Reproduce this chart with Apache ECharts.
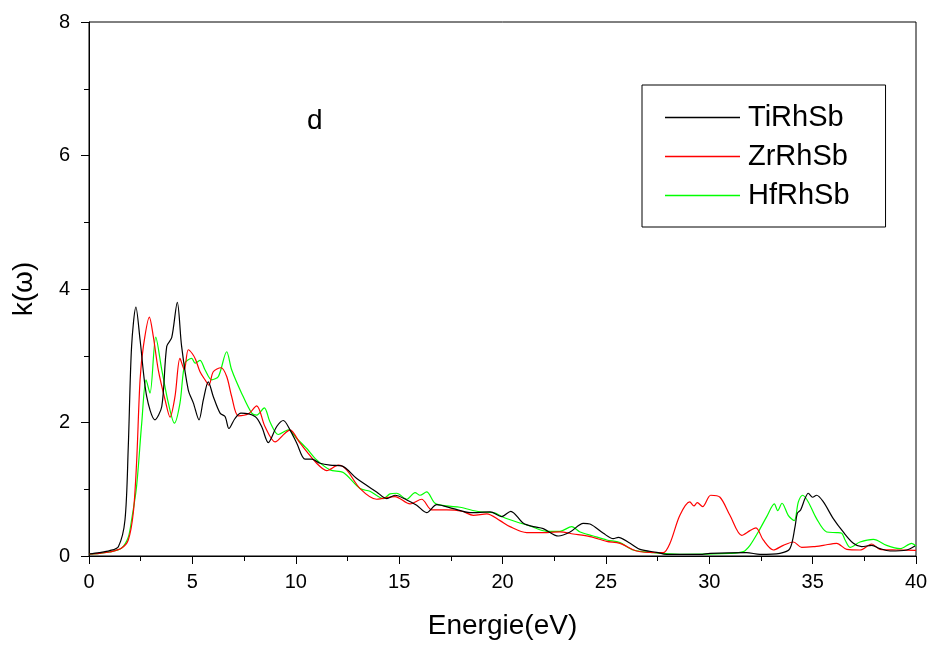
<!DOCTYPE html>
<html><head><meta charset="utf-8">
<script src="https://cdn.jsdelivr.net/npm/echarts@6/dist/echarts.min.js"></script>
<style>html,body{margin:0;padding:0;background:#fff}#c{width:933px;height:649px}</style>
</head><body><div id="c"></div>
<script>
var seriesNames = ['TiRhSb', 'ZrRhSb', 'HfRhSb'];
var seriesColors = ['#000000', '#ff0000', '#00ff00'];
var xTicks = [0, 5, 10, 15, 20, 25, 30, 35, 40];
var yTicks = [0, 2, 4, 6, 8];

var tiRhSb = [[0,0.03],[0.5,0.05],[1.0,0.08],[1.42,0.14],[1.74,0.54],[1.90,1.64],[2.06,3.14],[2.27,3.73],[2.47,3.24],[2.79,2.39],[3.19,2.04],[3.52,2.24],[3.76,3.14],[4.0,3.27],[4.27,3.80],[4.48,3.14],[4.80,2.49],[5.05,2.29],[5.32,2.04],[5.53,2.34],[5.77,2.61],[6.01,2.39],[6.34,2.14],[6.58,2.09],[6.77,1.91],[7.06,2.06],[7.35,2.14],[8.03,2.09],[8.35,1.94],[8.67,1.70],[9.08,1.94],[9.40,2.03],[9.72,1.89],[10.05,1.69],[10.45,1.45],[10.77,1.45],[11.17,1.39],[11.66,1.36],[12.22,1.35],[12.95,1.16],[13.91,0.96],[14.40,0.86],[14.80,0.91],[15.37,0.84],[15.85,0.76],[16.33,0.65],[16.82,0.77],[17.62,0.71],[18.43,0.65],[19.40,0.66],[19.96,0.59],[20.40,0.67],[21.01,0.49],[21.49,0.44],[21.97,0.41],[22.70,0.30],[23.27,0.36],[23.91,0.49],[24.23,0.48],[24.88,0.34],[25.36,0.26],[25.60,0.28],[26.17,0.19],[26.65,0.10],[27.46,0.055],[27.94,0.025],[29.55,0.025],[30.04,0.04],[31.81,0.05],[32.45,0.025],[33.42,0.04],[33.90,0.11],[34.15,0.44],[34.26,0.64],[34.42,0.69],[34.63,0.86],[34.79,0.94],[35.00,0.88],[35.19,0.91],[35.52,0.81],[36.00,0.56],[36.48,0.36],[36.97,0.19],[37.37,0.14],[37.86,0.16],[38.26,0.11],[38.74,0.075],[39.55,0.09],[39.95,0.15]];

var zrRhSb = [[0,0.03],[0.5,0.04],[1.0,0.06],[1.58,0.12],[1.90,0.24],[2.14,0.64],[2.30,1.39],[2.47,2.64],[2.63,3.14],[2.92,3.58],[3.11,3.29],[3.35,2.79],[3.68,2.34],[3.92,2.08],[4.16,2.39],[4.40,2.96],[4.61,2.79],[4.80,3.09],[5.0,3.03],[5.16,2.94],[5.37,2.76],[5.61,2.64],[5.80,2.56],[6.01,2.76],[6.38,2.82],[6.66,2.69],[6.90,2.39],[7.22,2.10],[7.71,2.13],[8.11,2.25],[8.51,1.94],[9.0,1.71],[9.48,1.84],[9.72,1.89],[10.21,1.69],[11.01,1.39],[11.50,1.28],[12.06,1.36],[12.46,1.29],[13.11,1.01],[13.91,0.85],[14.80,0.89],[15.53,0.78],[16.09,0.85],[16.58,0.69],[17.30,0.69],[18.03,0.67],[18.59,0.61],[19.24,0.63],[19.88,0.53],[20.36,0.44],[21.17,0.35],[21.81,0.35],[22.78,0.36],[23.42,0.33],[24.23,0.29],[25.04,0.22],[25.68,0.19],[26.49,0.075],[27.46,0.05],[27.78,0.05],[28.10,0.19],[28.58,0.61],[29.06,0.81],[29.26,0.75],[29.42,0.80],[29.68,0.74],[30.07,0.91],[30.52,0.88],[31.00,0.61],[31.57,0.31],[31.97,0.38],[32.26,0.42],[32.61,0.24],[33.10,0.09],[33.58,0.16],[34.07,0.21],[34.47,0.13],[35.03,0.14],[35.52,0.16],[36.16,0.19],[36.65,0.10],[37.29,0.09],[37.86,0.18],[38.26,0.10],[39.07,0.09],[40.0,0.085]];

var hfRhSb = [[0,0.03],[0.5,0.04],[1.0,0.06],[1.58,0.12],[1.90,0.28],[2.06,0.54],[2.30,1.04],[2.55,1.99],[2.76,2.64],[2.95,2.44],[3.23,3.28],[3.52,2.79],[3.84,2.29],[4.13,1.99],[4.40,2.29],[4.64,2.89],[4.97,2.96],[5.13,2.89],[5.37,2.93],[5.61,2.79],[5.93,2.64],[6.26,2.69],[6.66,3.06],[6.90,2.79],[7.38,2.44],[7.87,2.14],[8.11,2.11],[8.48,2.22],[8.75,2.01],[9.16,1.82],[9.64,1.89],[10.05,1.76],[10.53,1.61],[11.01,1.44],[11.66,1.29],[12.30,1.25],[13.11,1.01],[13.59,0.97],[14.23,0.86],[14.56,0.93],[14.88,0.94],[15.37,0.85],[15.77,0.95],[16.01,0.91],[16.33,0.96],[16.74,0.79],[17.30,0.75],[17.94,0.73],[18.91,0.66],[19.56,0.65],[20.04,0.58],[20.69,0.51],[21.33,0.45],[22.14,0.37],[22.78,0.37],[23.35,0.44],[23.75,0.36],[24.39,0.30],[25.04,0.24],[25.68,0.20],[26.33,0.09],[27.29,0.05],[28.58,0.025],[31.00,0.04],[31.65,0.065],[31.97,0.16],[32.37,0.36],[32.78,0.59],[33.15,0.78],[33.31,0.68],[33.52,0.79],[33.82,0.61],[34.11,0.53],[34.31,0.81],[34.52,0.91],[34.79,0.81],[35.19,0.56],[35.68,0.36],[36.16,0.35],[36.41,0.34],[36.57,0.24],[36.81,0.13],[37.29,0.21],[37.94,0.25],[38.58,0.16],[39.23,0.11],[39.79,0.19],[40,0.15]];

var allData = [tiRhSb, zrRhSb, hfRhSb];
var font = 'Liberation Sans, Arial, sans-serif';

var chart = echarts.init(document.getElementById('c'), null, {renderer: 'canvas'});
chart.setOption({
  animation: false,
  backgroundColor: '#fff',
  grid: {left: 89, right: 17, top: 22, bottom: 93, show: true, borderColor: '#000', borderWidth: 1, backgroundColor: 'transparent'},
  title: {text: 'd', left: 302, top: 102, textStyle: {fontFamily: font, fontSize: 28, fontWeight: 'normal', color: '#000'}},
  legend: {
    data: seriesNames, orient: 'vertical', left: 642, top: 85,
    padding: [18, 36, 17, 23], itemGap: 10, itemWidth: 75, itemHeight: 1.5,
    borderColor: '#000', borderWidth: 1, backgroundColor: '#fff',
    icon: 'rect',
    textStyle: {fontFamily: font, fontSize: 29, color: '#000', padding: [0, 0, 0, 3]}
  },
  xAxis: {
    type: 'value', min: 0, max: 40, interval: 5,
    name: 'Energie(eV)', nameLocation: 'middle', nameGap: 56,
    nameTextStyle: {fontFamily: font, fontSize: 28, color: '#000'},
    axisLine: {onZero: false, lineStyle: {color: '#000', width: 1}},
    axisTick: {length: 8, lineStyle: {color: '#000'}},
    minorTick: {show: true, splitNumber: 2, length: 5, lineStyle: {color: '#000'}},
    axisLabel: {fontFamily: font, fontSize: 20, color: '#000', margin: 16},
    splitLine: {show: false}
  },
  yAxis: {
    type: 'value', min: 0, max: 8, interval: 2,
    name: 'k(\u03c9)', nameLocation: 'middle', nameGap: 51, nameRotate: 90,
    nameTextStyle: {fontFamily: font, fontSize: 28, color: '#000'},
    axisLine: {show: true, lineStyle: {color: '#000', width: 1}},
    axisTick: {show: true, length: 8, lineStyle: {color: '#000'}},
    minorTick: {show: true, splitNumber: 2, length: 5, lineStyle: {color: '#000'}},
    axisLabel: {fontFamily: font, fontSize: 20, color: '#000', margin: 19},
    splitLine: {show: false}
  },
  series: allData.map(function (d, i) {
    return {
      name: seriesNames[i], type: 'line', data: d, symbol: 'none', smooth: 0.3,
      lineStyle: {color: seriesColors[i], width: 1.2},
      itemStyle: {color: seriesColors[i]},
      z: 3 - i
    };
  })
});
</script></body></html>
